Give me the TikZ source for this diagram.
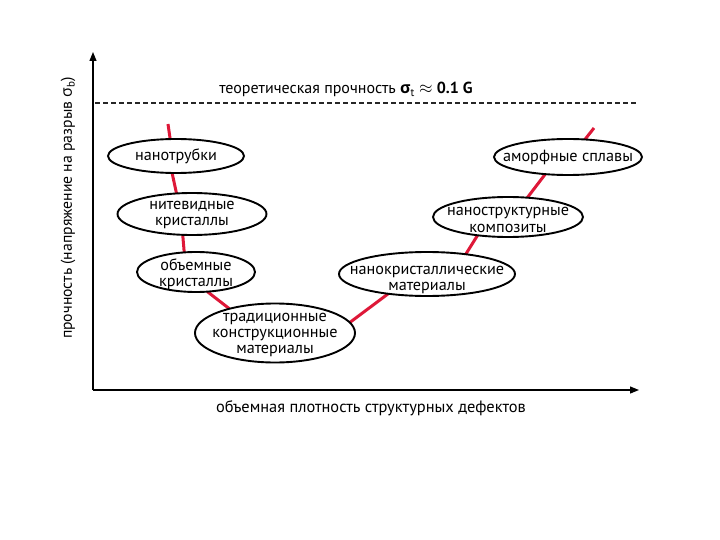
\documentclass[tikz,border=0pt]{standalone}
\usepackage{fontspec}
\setmainfont{PT Sans}
\newfontfamily\grk{Open Sans}
\usetikzlibrary{shapes.geometric,arrows.meta,backgrounds}
\definecolor{redc}{RGB}{222,24,56}
\begin{document}
\begin{tikzpicture}[x=1pt,y=-1pt,
  el/.style={ellipse,draw=black,line width=1.9pt,fill=white,inner sep=0pt,outer sep=0pt},
  lab/.style={align=center,inner sep=0pt,font=\fontsize{16.2}{16.5}\selectfont},
  axlab/.style={inner sep=0pt,font=\fontsize{16}{18}\selectfont},
  redl/.style={draw=redc,line width=3pt},
  axis/.style={line width=1.2pt,-{Triangle[length=9pt,width=7pt]}}
]
\useasboundingbox (0,0) rectangle (720,540);
% axes
\coordinate (O) at (93,390);
\coordinate (Ytop) at (93,52);
\coordinate (Xend) at (639,390);
\draw[axis] (O) -- (Ytop);
\draw[axis] (O) -- (Xend);
% dashed theoretical strength line
\coordinate (d1) at (95,103);
\coordinate (d2) at (636,103);
\draw[line width=2pt,dash pattern=on 5pt off 3pt,black!85] (d1) -- (d2);
\node[axlab,anchor=base] (theo) at (346,94) {теоретическая прочность {\grk\bfseries σ}\textsubscript{t} $\approx$ \textbf{0.1 G}};
\node[axlab,anchor=base,font=\fontsize{16.4}{18}\selectfont] (xlab) at (371,412) {объемная плотность структурных дефектов};
\node[axlab,rotate=90,font=\fontsize{15.7}{18}\selectfont] (ylab) at (68,208) {прочность (напряжение на разрыв {\grk σ}\textsubscript{b})};
% ellipses
\node[el,minimum width=136pt,minimum height=34pt] (nano) at (176,156) {};
\node[el,minimum width=149pt,minimum height=42pt] (nit) at (192,214) {};
\node[el,minimum width=118pt,minimum height=40pt] (obj) at (196,272) {};
\node[el,minimum width=160pt,minimum height=59pt] (trad) at (275,333) {};
\node[el,minimum width=176pt,minimum height=44pt] (nk) at (427,274) {};
\node[el,minimum width=150pt,minimum height=40pt] (ns) at (508,217) {};
\node[el,minimum width=148pt,minimum height=36pt] (am) at (568,157) {};
% texts
\node[lab] (nanot) at (nano) {нанотрубки};
\node[lab,yshift=-1pt] (nitt) at (nit) {нитевидные\\кристаллы};
\node[lab,yshift=-2pt] (objt) at (obj) {объемные\\кристаллы};
\node[lab,yshift=-2pt,font=\fontsize{16.2}{16}\selectfont] (tradt) at (trad) {традиционные\\конструкционные\\материалы};
\node[lab,yshift=-6pt] (nkt) at (nk) {нанокристаллические\\материалы};
\node[lab,yshift=-3pt] (nst) at (ns) {наноструктурные\\композиты};
\node[lab] (amt) at (am) {аморфные сплавы};
% red curve
\coordinate (r0) at (168,124);
\coordinate (r9) at (594,128);
\begin{scope}[on background layer]
\draw[redl] (r0) -- (nano.109);
\draw[redl] (nano.-103) -- (nit.127);
\draw[redl] (nit.-114) -- (obj.121);
\draw[redl] (obj.-60) -- (trad.152);
\draw[redl] (trad.8) -- (nk.-153);
\draw[redl] (nk.27) -- (ns.-149);
\draw[redl] (ns.45) -- (am.-143);
\draw[redl] (am.46) -- (r9);
\end{scope}
\end{tikzpicture}
\end{document}
